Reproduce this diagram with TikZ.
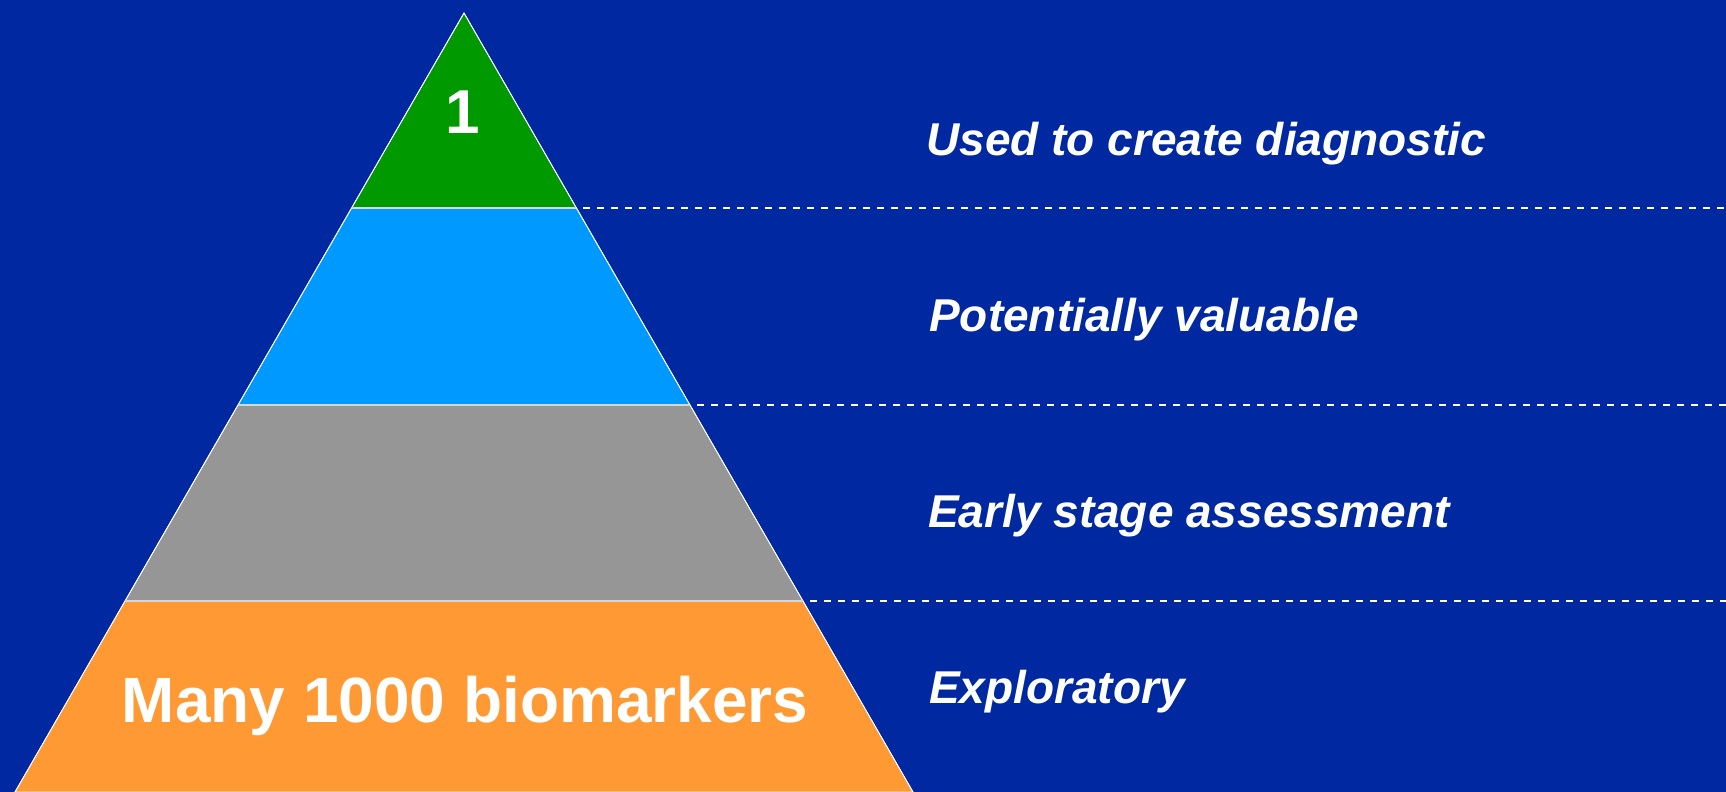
\documentclass[tikz,border=0pt]{standalone}
\usepackage{fontspec}
\setmainfont{Liberation Sans}
\usetikzlibrary{calc}
\definecolor{bgblue}{RGB}{0,40,160}
\definecolor{tipgreen}{RGB}{0,153,0}
\definecolor{layerblue}{RGB}{0,153,255}
\definecolor{layergray}{RGB}{150,150,150}
\definecolor{layerorange}{RGB}{255,153,51}
\definecolor{seamgray}{RGB}{215,215,215}

\begin{document}
\begin{tikzpicture}[x=1pt, y=-1pt,
			layer/.style={draw=white, line width=0.8pt, line join=round},
			seam/.style={draw=seamgray, line width=1.5pt},
			guide/.style={draw=white, line width=2pt, dash pattern=on 7pt off 7pt},
			stage/.style={anchor=base west, text=white, inner sep=0pt,
				font=\fontsize{46}{50}\selectfont\bfseries\itshape},
			count/.style={text=white, inner sep=0pt,
				font=\fontsize{64}{70}\selectfont\bfseries}]

			% Background
			\fill[bgblue] (0,0) rectangle (1726,792);
			\useasboundingbox (0,0) rectangle (1726,792);

			% Corners of the pyramid
			\coordinate (apex) at (464,13);
			\coordinate (l1) at (351.6,208);  \coordinate (r1) at (576.4,208);
			\coordinate (l2) at (238,405);    \coordinate (r2) at (690,405);
			\coordinate (l3) at (125,601);    \coordinate (r3) at (803,601);
			\coordinate (l4) at (15,792);     \coordinate (r4) at (913,792);

			% Drawing the layers
			\fill[layer, fill=tipgreen] (apex) -- (r1) -- (l1) -- cycle;
			\fill[layer, fill=layerblue] (l1) -- (r1) -- (r2) -- (l2) -- cycle;
			\fill[layer, fill=layergray] (l2) -- (r2) -- (r3) -- (l3) -- cycle;
			\fill[layer, fill=layerorange] (l3) -- (r3) -- (r4) -- (l4) -- cycle;
			\draw[white, line width=0.8pt] (l4) -- (apex) -- (r4);
			\draw[seam] (l1) -- (r1);
			\draw[seam] (l2) -- (r2);
			\draw[seam] (l3) -- (r3);

			% Dashed guides to the right edge
			\coordinate (e1) at (1726,208);
			\coordinate (e2) at (1726,405);
			\coordinate (e3) at (1726,601);
			\draw[guide] ($(r1)+(7,0)$) -- (e1);
			\draw[guide] ($(r2)+(7,0)$) -- (e2);
			\draw[guide] ($(r3)+(7,0)$) -- (e3);

			% Counts inside the pyramid
			\node[count, anchor=base, font=\fontsize{62}{66}\selectfont\bfseries] (top) at (463,133) {1};
			\node[count, anchor=base] (bottom) at (465,722) {Many 1000 biomarkers};

			% Stage labels
			\node[stage] (used) at (926,155) {Used to create diagnostic};
			\node[stage] (valuable) at (929,331) {Potentially valuable};
			\node[stage] (early) at (928,527) {Early stage assessment};
			\node[stage] (explore) at (929,703) {Exploratory};
		\end{tikzpicture}
\end{document}
